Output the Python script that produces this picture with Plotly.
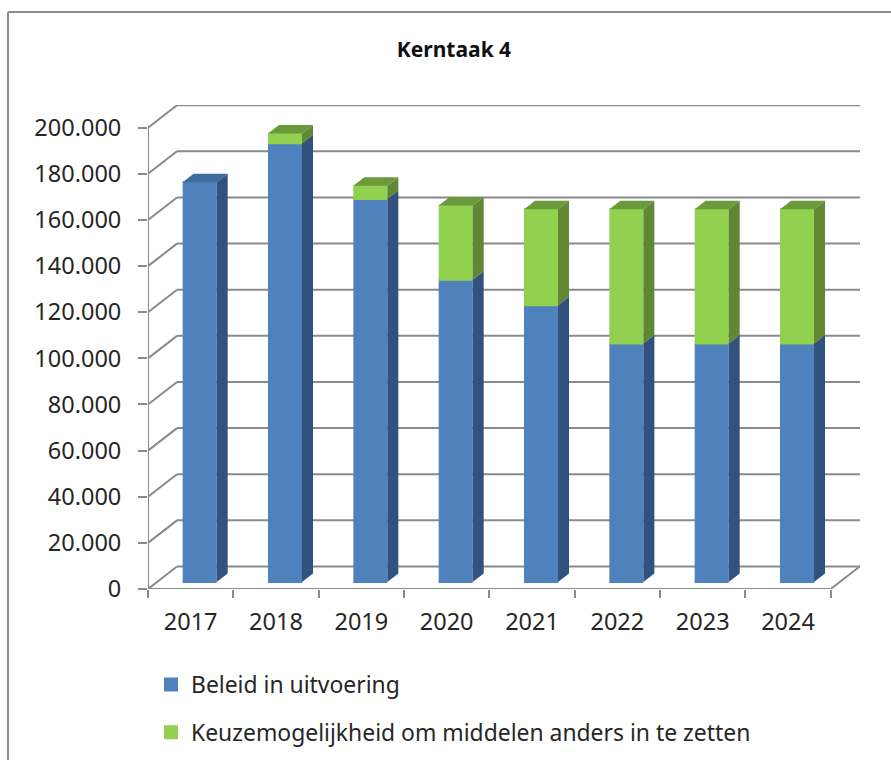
import plotly.graph_objects as go

years = ["2017", "2018", "2019", "2020", "2021", "2022", "2023", "2024"]
beleid = [173300, 190200, 166000, 131000, 120000, 103400, 103400, 103400]
keuze = [None, 4300, 5800, 32200, 41600, 58200, 58200, 58200]
y_ticks = list(range(0, 200001, 20000))

W, H = 891, 760
FONT = "Noto Sans"
TEXT = "#262626"
GRID = "#8A8A8A"
BLUE, BLUE_SIDE, BLUE_TOP = "#4F81BD", "#30527C", "#3F6A9E"
GREEN, GREEN_SIDE, GREEN_TOP = "#92D050", "#5F8734", "#6B9A3A"

# pixel frame of the chart
LEFT, RIGHT, BACK_RIGHT = 148.0, 830.7, 860.0
Y0, Y200, BACK_TOP = 589.0, 127.7, 105.0
cat_px = (RIGHT - LEFT) / len(years)
val_px = (Y0 - Y200) / 200000
x_lo = -0.5
x_hi = len(years) - 0.5 + (BACK_RIGHT - RIGHT) / cat_px
y_hi = (Y0 - BACK_TOP) / val_px

def xpx(px):
    return px / cat_px

def ypx(px):
    return px / val_px

wall_dx, wall_dy = xpx(29.0), ypx(22.5)
bar_base = ypx(7.0)
bar_w = 32.0 / cat_px
bar_shift = xpx(9.0)
d_x, d_y = xpx(11.0), ypx(8.5)

fig = go.Figure()

fig.add_trace(go.Bar(
    x=years, y=beleid, base=[bar_base] * len(years), name="Beleid in uitvoering",
    width=bar_w, offset=bar_shift - bar_w / 2, legendgroup="a",
    marker=dict(color=BLUE, line=dict(color=BLUE, width=2)),
))
fig.add_trace(go.Bar(
    x=years, y=keuze, base=[bar_base + b for b in beleid],
    name="Keuzemogelijkheid om middelen anders in te zetten",
    width=bar_w, offset=bar_shift - bar_w / 2, legendgroup="b",
    marker=dict(color=GREEN, line=dict(color=GREEN, width=2)),
))

side_half = xpx(1.0) + bar_w / 2 + bar_shift


def side_poly(lows, highs):
    xs, ys = [], []
    for i, (lo, hi) in enumerate(zip(lows, highs)):
        if hi is None or lo == hi:
            continue
        r = i + side_half
        xs += [r, r + d_x, r + d_x, r, None]
        ys += [lo, lo + d_y, hi + d_y, hi, None]
    return xs, ys


def top_poly(idx, tops):
    xs, ys = [], []
    for i, t in zip(idx, tops):
        l = i + bar_shift - bar_w / 2 - xpx(1.0)
        r = i + side_half
        xs += [l, l + d_x, r + d_x, r, None]
        ys += [t, t + d_y, t + d_y, t, None]
    return xs, ys


blue_lo = [bar_base] * len(years)
blue_hi = [bar_base + b for b in beleid]
green_hi = [None if k is None else bar_base + b + k for b, k in zip(beleid, keuze)]

polys = [
    (side_poly(blue_lo, blue_hi), BLUE_SIDE),
    (side_poly(blue_hi, green_hi), GREEN_SIDE),
    (top_poly([i for i, k in enumerate(keuze) if k is None],
              [bar_base + b for b, k in zip(beleid, keuze) if k is None]), BLUE_TOP),
    (top_poly([i for i, k in enumerate(keuze) if k is not None],
              [g for g in green_hi if g is not None]), GREEN_TOP),
]
for (xs, ys), col in polys:
    fig.add_trace(go.Scatter(
        x=xs, y=ys, mode="lines", fill="toself", fillcolor=col,
        line=dict(width=0, color=col), hoverinfo="skip", showlegend=False,
        xaxis="x2",
    ))

shapes = []
fx0 = x_lo
fx1 = len(years) - 0.5


def seg(x0, y0, x1, y1, width=2):
    return dict(type="line", xref="x", yref="y", x0=x0, y0=y0, x1=x1, y1=y1,
                layer="below", line=dict(color=GRID, width=width))


for v in y_ticks:
    shapes.append(seg(fx0, v, fx0 + wall_dx, v + wall_dy))
    shapes.append(seg(fx0 + wall_dx, v + wall_dy, x_hi, v + wall_dy))
shapes.append(seg(fx0, 0, fx0, y_ticks[-1]))
shapes.append(seg(fx0, 0, fx1, 0))
shapes.append(seg(fx1, 0, fx1 + wall_dx, wall_dy))
# chart frame (open at right and bottom)
shapes.append(dict(type="line", xref="paper", yref="paper", x0=8 / W, x1=8 / W, y0=-0.01, y1=1 - 12 / H,
                   line=dict(color="#8E8E8E", width=2), layer="below"))
shapes.append(dict(type="line", xref="paper", yref="paper", x0=8 / W, x1=1.01, y0=1 - 12 / H, y1=1 - 12 / H,
                   line=dict(color="#8E8E8E", width=2), layer="below"))

axis_font = dict(family=FONT, size=23.5, color=TEXT)
fig.update_layout(
    width=W, height=H, autosize=False,
    margin=dict(l=0, r=0, t=0, b=0),
    paper_bgcolor="white", plot_bgcolor="white",
    barmode="overlay", separators=",.",
    font=dict(family=FONT, color=TEXT),
    title=dict(text="<b>Kerntaak 4</b>", x=454 / W, xanchor="center", xref="paper",
               y=1 - 50 / H, yanchor="middle", yref="paper",
               font=dict(family=FONT, size=21, color="#111111")),
    xaxis=dict(domain=[LEFT / W, BACK_RIGHT / W], range=[x_lo, x_hi], type="category",
               categoryorder="array", categoryarray=years, automargin=False,
               tickson="boundaries", ticks="outside", ticklen=8, tickwidth=2, tickcolor=GRID,
               ticklabelstandoff=16, tickfont=axis_font, showgrid=False, showline=False, zeroline=False),
    xaxis2=dict(domain=[LEFT / W, BACK_RIGHT / W], range=[x_lo, x_hi], anchor="y", overlaying="x",
                visible=False, automargin=False),
    yaxis=dict(domain=[1 - Y0 / H, 1 - BACK_TOP / H], range=[0, y_hi], automargin=False,
               tickvals=y_ticks, tickformat=",d", ticks="outside", ticklen=9, tickwidth=2, tickcolor=GRID,
               ticklabelstandoff=12, tickfont=axis_font, showgrid=False, showline=False, zeroline=False),
    legend=dict(x=151 / W, xanchor="left", y=(H - 754) / H, yanchor="bottom",
                orientation="v", traceorder="grouped", tracegroupgap=15, bgcolor="rgba(0,0,0,0)",
                font=dict(family=FONT, size=22.9, color=TEXT), itemwidth=30, itemclick=False),
    shapes=shapes,
)

fig.write_html("out.html", post_script="document.body.style.margin='0';",
               config=dict(displayModeBar=False))
